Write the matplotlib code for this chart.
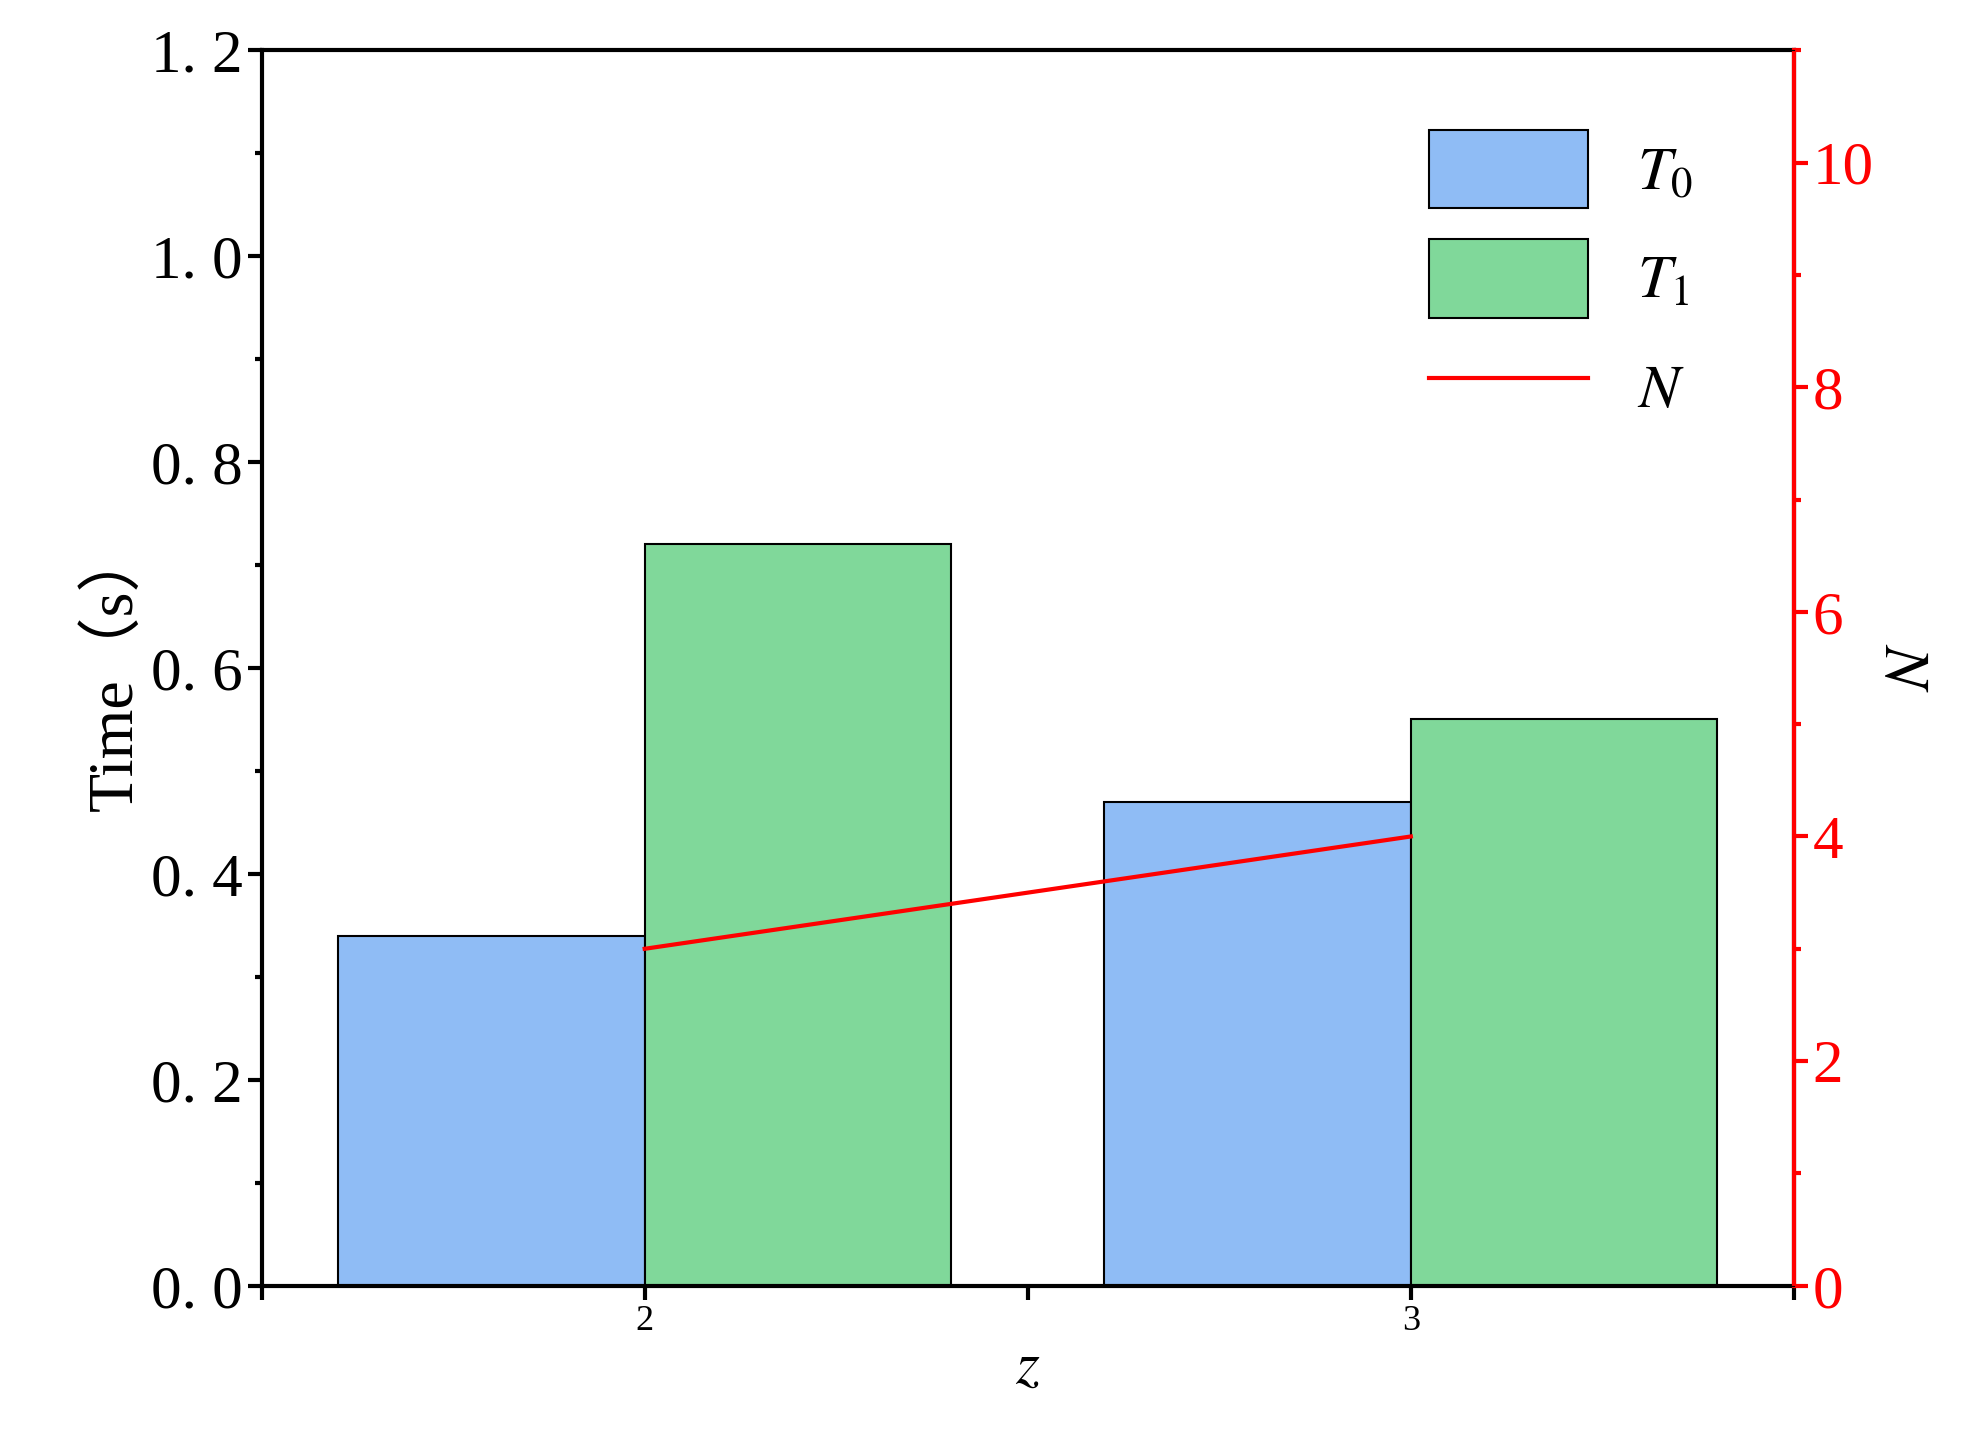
import numpy as np
import matplotlib.pyplot as plt
from matplotlib.ticker import MultipleLocator, FuncFormatter

plt.rcParams['font.family'] = ['Liberation Serif', 'Noto Sans CJK SC', 'DejaVu Sans']
plt.rcParams['mathtext.fontset'] = 'stix'

z = [2, 3]
t0 = [0.34, 0.47]
t1 = [0.72, 0.55]
n_vals = [3, 4]

fig = plt.figure(figsize=(19.67, 14.35), dpi=100)
ax = fig.add_axes([0.133, 0.104, 0.779, 0.861])
w = 0.4
x = np.array(z)
ax.bar(x - w / 2, t0, w, color='#8fbcf5', edgecolor='black', linewidth=1.5, label='$T_0$')
ax.bar(x + w / 2, t1, w, color='#80d89a', edgecolor='black', linewidth=1.5, label='$T_1$')
ax.set_xlim(1.5, 3.5)
ax.set_ylim(0, 1.2)
ax.set_xticks(z)
ax.xaxis.set_minor_locator(MultipleLocator(0.5))
ax.yaxis.set_major_locator(MultipleLocator(0.2))
ax.yaxis.set_minor_locator(MultipleLocator(0.1))
ax.yaxis.set_major_formatter(FuncFormatter(lambda v, p: f"{v:.1f}".replace('.', '. ')))
ax.tick_params(axis='y', which='major', labelsize=44, length=10, width=3)
ax.tick_params(axis='y', which='minor', length=5, width=3)
ax.tick_params(axis='x', which='major', labelsize=26, length=10, width=3)
ax.tick_params(axis='x', which='minor', length=10, width=3)
for s in ax.spines.values():
    s.set_linewidth(3)
ax.set_ylabel('Time（s）', fontsize=46)
ax.set_xlabel('$z$', fontsize=44, labelpad=2)

ax2 = ax.twinx()
line, = ax2.plot(z, n_vals, color='red', linewidth=3, label='$N$')
ax2.set_ylim(0, 11)
ax2.yaxis.set_major_locator(MultipleLocator(2))
ax2.yaxis.set_minor_locator(MultipleLocator(1))
ax2.tick_params(axis='y', which='major', colors='red', labelsize=44, length=10, width=3)
ax2.tick_params(axis='y', which='minor', colors='red', length=5, width=3)
ax2.spines['right'].set_color('red')
ax2.spines['right'].set_linewidth(3)
ax2.set_ylabel('$N$', fontsize=46, color='black', rotation=-90, labelpad=40)

h1, l1 = ax.get_legend_handles_labels()
ax.legend(h1 + [line], l1 + ['$N$'], loc='upper right', frameon=False,
          fontsize=44, handlelength=2.6, handleheight=1.6, bbox_to_anchor=(0.97, 0.98))

fig.savefig('out.png', dpi=100)
